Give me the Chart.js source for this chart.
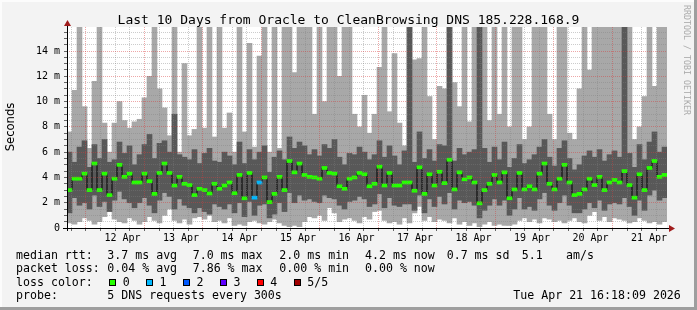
<!DOCTYPE html>
<html>
<head>
<meta charset="utf-8">
<script src="https://cdn.jsdelivr.net/npm/chart.js@4.4.1/dist/chart.umd.min.js"></script>
<style>
  body { margin: 0; background: #f3f3f3; }
  #wrap { position: relative; width: 697px; height: 310px; overflow: hidden; }
  #myChart { position: absolute; left: 0; top: 0; }
  .txt { position: absolute; font-family: 'DejaVu Sans Mono', monospace; font-size: 11.6px; line-height: 14px; color: #000; white-space: pre; }
  .box { position: absolute; width: 5px; height: 5px; border: 1px solid #000; }
</style>
</head>
<body>
<div id="wrap">
  <canvas id="myChart" width="697" height="310"></canvas>
  <div id="texts"></div>
</div>
<script>
// 120 bins of 2 h each, Apr 11 16:18 -> Apr 21 16:18, values in ms
const medianMs = [
  3.0, 3.9, 3.9, 4.3, 3.0, 5.1, 3.0, 4.3, 2.6, 3.9,
  5.0, 4.05, 4.3, 3.6, 3.6, 4.3, 3.7, 2.7, 4.36, 5.1,
  4.36, 3.36, 4.05, 3.5, 3.4, 2.6, 3.1, 3.0, 2.73, 3.5,
  3.1, 3.36, 3.6, 2.75, 4.2, 2.35, 4.36, 2.4, 3.6, 4.0,
  2.05, 2.7, 4.05, 3.0, 5.3, 4.4, 5.1, 4.2, 4.05, 4.0,
  3.9, 4.75, 4.36, 4.3, 3.3, 3.1, 3.9, 4.0, 4.36, 4.25,
  3.3, 3.5, 4.85, 3.36, 4.36, 3.36, 3.36, 3.6, 3.6, 2.95,
  4.8, 2.7, 4.25, 3.36, 4.45, 3.55, 5.4, 3.05, 4.4, 3.85,
  4.0, 3.6, 1.95, 3.0, 3.5, 4.2, 3.6, 4.4, 2.35, 3.05,
  4.36, 3.05, 3.3, 3.05, 4.3, 5.1, 3.5, 3.05, 3.9, 5.0,
  3.6, 2.6, 2.7, 3.05, 3.9, 3.4, 4.05, 3.0, 3.6, 3.8,
  3.6, 4.5, 3.4, 2.4, 4.25, 3.0, 4.75, 5.3, 4.05, 4.2
];
const lossCount = medianMs.map(() => 0);
lossCount[37] = 1;
lossCount[38] = 1;

const lightHiMs = [
  7.6, 10.9, 17, 9.6, 6.3, 11.6, 17, 8.3, 6.0, 8.3,
  10.0, 8.5, 7.9, 8.4, 8.6, 10.3, 12.0, 17, 11.0, 9.5,
  7.3, 17, 6.0, 13.0, 7.3, 7.8, 17, 7.9, 17, 7.2,
  17, 7.9, 9.1, 6.0, 17, 7.6, 14.6, 6.4, 13.6, 17,
  6.0, 17, 6.3, 17, 17, 12.3, 17, 17, 17, 9.0,
  17, 10.0, 17, 17, 12.0, 17, 17, 9.0, 8.0, 10.5,
  7.5, 9.0, 12.7, 17, 9.2, 13.8, 8.3, 6.5, 17, 13.3,
  13.4, 17, 10.4, 7.0, 11.2, 11.0, 17, 11.5, 9.6, 17,
  8.4, 17, 17, 17, 8.5, 17, 9.0, 17, 8.0, 17,
  17, 7.0, 8.0, 17, 17, 17, 9.0, 7.0, 17, 17,
  7.5, 7.0, 11.0, 17, 12.5, 17, 17, 17, 17, 17,
  17, 17, 17, 7.0, 8.0, 10.4, 17, 11.2, 17, 17
];
const lightLoMs = [
  0.4, 0.3, 0.5, 0.8, 0.6, 0.3, 0.5, 0.9, 1.4, 0.7,
  0.5, 0.4, 0.8, 0.6, 0.3, 0.5, 0.9, 0.6, 0.4, 1.0,
  1.5, 0.6, 0.4, 0.7, 0.3, 0.8, 0.9, 0.7, 1.0, 0.5,
  0.6, 0.4, 0.8, 0.2, 0.3, 0.2, 0.5, 0.6, 0.4, 0.3,
  0.5, 0.7, 0.4, 0.2, 0.1, 0.2, 0.1, 0.5, 0.9, 0.8,
  1.0, 0.6, 1.6, 1.2, 0.5, 0.7, 0.8, 0.6, 0.4, 0.9,
  0.7, 1.3, 1.4, 0.6, 0.4, 0.5, 0.3, 0.8, 0.4, 1.2,
  1.7, 0.6, 0.9, 0.5, 0.7, 0.6, 0.4, 0.8, 0.3, 0.5,
  0.2, 0.4, 0.1, 0.3, 0.5, 0.2, 0.3, 0.2, 0.2, 0.3,
  0.6, 0.8, 0.5, 0.7, 0.4, 0.8, 0.7, 0.5, 0.6, 0.4,
  0.6, 0.8, 0.5, 0.4, 1.0, 1.3, 0.6, 0.9, 0.5, 0.8,
  0.7, 0.6, 0.4, 0.5, 0.8, 0.6, 0.4, 0.5, 0.3, 0.5
];
const darkHiMs = [
  6.0, 5.2, 6.4, 6.9, 4.8, 6.6, 5.5, 7.0, 5.2, 5.4,
  6.8, 5.9, 6.5, 5.0, 5.8, 6.6, 7.4, 5.5, 6.7, 6.9,
  6.0, 9.0, 5.8, 5.6, 5.4, 6.2, 5.1, 5.9, 6.3, 5.3,
  5.2, 6.0, 5.7, 5.0, 6.8, 5.1, 6.2, 5.4, 6.0, 6.5,
  4.4, 5.6, 6.1, 5.4, 7.2, 6.3, 6.8, 6.5, 5.8, 6.2,
  5.7, 6.6, 6.3, 7.0, 5.6, 5.0, 5.9, 5.8, 6.4, 6.0,
  5.4, 5.8, 6.9, 5.6, 6.5, 5.7, 5.0, 6.1, 17, 5.2,
  7.6, 5.5, 6.2, 5.3, 6.6, 6.5, 17, 5.3, 6.3, 5.8,
  6.0, 6.2, 17, 6.3, 5.2, 6.4, 5.4, 6.8, 4.8, 5.5,
  6.6, 5.1, 5.4, 5.8, 6.4, 7.0, 5.6, 4.9, 6.3, 6.9,
  5.5, 4.6, 5.0, 5.7, 6.1, 5.6, 6.2, 5.3, 5.8, 6.1,
  5.6, 17, 5.9, 4.8, 6.6, 5.4, 6.8, 7.6, 6.0, 6.4
];
const darkLoMs = [
  1.2, 2.4, 1.8, 2.0, 1.5, 2.6, 1.7, 2.1, 1.3, 2.2,
  2.9, 2.3, 2.0, 1.6, 2.0, 2.4, 1.8, 1.2, 2.2, 2.8,
  2.5, 1.5, 2.3, 1.8, 1.6, 1.2, 1.6, 1.3, 1.1, 1.9,
  1.7, 1.5, 1.9, 1.2, 2.0, 0.9, 2.1, 1.0, 1.8, 1.9,
  0.8, 1.1, 2.0, 1.3, 2.8, 2.0, 2.6, 2.2, 2.3, 2.1,
  2.0, 2.6, 2.4, 2.3, 1.8, 1.5, 2.1, 2.2, 2.5, 2.3,
  1.7, 1.9, 2.7, 1.6, 2.4, 1.8, 1.7, 1.9, 1.9, 1.4,
  2.6, 1.2, 2.3, 1.7, 2.5, 1.9, 2.8, 1.5, 2.2, 2.0,
  2.1, 1.8, 0.8, 1.4, 1.8, 2.3, 1.8, 2.2, 1.0, 1.5,
  2.4, 1.5, 1.7, 1.4, 2.3, 2.8, 1.8, 1.4, 2.0, 2.6,
  1.8, 1.2, 1.2, 1.5, 2.0, 1.6, 2.2, 1.4, 1.9, 2.0,
  1.9, 2.4, 1.7, 1.0, 2.2, 1.4, 2.6, 3.0, 2.2, 2.4
];

const dayLabels = ['12 Apr', '13 Apr', '14 Apr', '15 Apr', '16 Apr', '17 Apr', '18 Apr', '19 Apr', '20 Apr', '21 Apr'];
const yTickLabels = ['0', '2 m', '4 m', '6 m', '8 m', '10 m', '12 m', '14 m'];
const lossColors = ['#26ff00', '#00b8ff', '#0059ff', '#5e00ff', '#ff0000', '#a00000'];
const lossLabels = ['0', '1', '2', '3', '4', '5/5'];
const rttStats = ['3.7 ms avg', '7.0 ms max', '2.0 ms min', '4.2 ms now', '0.7 ms sd', '5.1', 'am/s'];
const lossStats = ['0.04 % avg', '7.86 % max', '0.00 % min', '0.00 % now'];

// hours relative to Apr 12 00:00
const startHour = -7.7;
const endHour = 232.3;

const majorGrid = 'rgba(215,60,60,0.45)';
const minorGrid = 'rgba(128,128,128,0.4)';

const binLabels = medianMs.map((_, i) => i);

const frame = {
  id: 'frame',
  beforeDraw(chart) {
    const c = chart.ctx, a = chart.chartArea;
    c.save();
    c.fillStyle = '#f3f3f3';
    c.fillRect(0, 0, chart.width, chart.height);
    c.fillStyle = '#fcfcfc';
    c.fillRect(0, 0, chart.width, 2);
    c.fillRect(0, 0, 2, chart.height);
    c.fillStyle = '#9e9e9e';
    c.fillRect(0, chart.height - 3, chart.width, 3);
    c.fillRect(chart.width - 3, 0, 3, chart.height);
    c.fillStyle = '#ffffff';
    c.fillRect(a.left, a.top, a.right - a.left, a.bottom - a.top);
    c.restore();
  },
  afterDraw(chart) {
    const c = chart.ctx, a = chart.chartArea;
    c.save();
    c.strokeStyle = '#000';
    c.lineWidth = 1;
    c.beginPath();
    c.moveTo(a.left + 0.5, a.bottom + 3);
    c.lineTo(a.left + 0.5, a.top - 4);
    c.moveTo(a.left - 4, a.bottom + 0.5);
    c.lineTo(a.right + 2, a.bottom + 0.5);
    c.stroke();
    c.fillStyle = '#a01c1c';
    c.beginPath();
    c.moveTo(a.left - 3, a.top - 1);
    c.lineTo(a.left + 4, a.top - 1);
    c.lineTo(a.left + 0.5, a.top - 7);
    c.closePath();
    c.fill();
    c.beginPath();
    c.moveTo(a.right + 2, a.bottom - 3);
    c.lineTo(a.right + 2, a.bottom + 4);
    c.lineTo(a.right + 8, a.bottom + 0.5);
    c.closePath();
    c.fill();
    c.restore();
  }
};

new Chart(document.getElementById('myChart'), {
  type: 'bar',
  data: {
    labels: binLabels,
    datasets: [
      {
        label: 'median',
        data: medianMs.map(m => [m - 0.12, m + 0.12]),
        backgroundColor: lossCount.map(l => lossColors[l]),
        order: 0
      },
      {
        type: 'line',
        label: 'median line',
        data: medianMs,
        borderColor: '#000',
        borderWidth: 1,
        pointRadius: 0,
        stepped: 'middle',
        order: 1
      },
      {
        label: 'dark smoke',
        data: darkLoMs.map((lo, i) => [lo, darkHiMs[i]]),
        backgroundColor: '#585858',
        order: 2
      },
      {
        label: 'light smoke',
        data: lightLoMs.map((lo, i) => [lo, lightHiMs[i]]),
        backgroundColor: '#a8a8a8',
        order: 3
      }
    ]
  },
  options: {
    responsive: false,
    animation: false,
    datasets: {
      bar: { grouped: false, barPercentage: 1, categoryPercentage: 1, borderWidth: 0 }
    },
    layout: { padding: { left: 0, top: 27, right: 30, bottom: 0 } },
    plugins: { legend: { display: false }, tooltip: { enabled: false } },
    font: { family: 'DejaVu Sans Mono' },
    scales: {
      x: { display: false },
      xt: {
        type: 'linear',
        position: 'bottom',
        min: startHour,
        max: endHour,
        afterBuildTicks: (s) => {
          const t = [];
          for (let h = -6; h <= 228; h += 6) t.push({ value: h });
          s.ticks = t;
        },
        afterFit: (s) => { s.height = 82; },
        grid: {
          z: 1,
          color: (ctx) => (ctx.tick && ctx.tick.value % 24 === 0 ? majorGrid : minorGrid),
          tickColor: '#666',
          tickLength: 3,
          tickBorderDash: []
        },
        border: { display: false, dash: [1, 1] },
        ticks: {
          autoSkip: false,
          maxRotation: 0,
          padding: 1,
          color: '#000',
          font: { family: 'DejaVu Sans Mono', size: 10 },
          callback: (v) => (v % 24 === 12 ? dayLabels[(v - 12) / 24] : '')
        }
      },
      y: {
        min: 0,
        max: 15.9,
        afterBuildTicks: (s) => {
          const t = [];
          for (let v = 0; v <= 15.5; v += 0.5) t.push({ value: v });
          s.ticks = t;
        },
        afterFit: (s) => { s.width = 67; },
        grid: {
          z: 1,
          color: (ctx) => (ctx.tick && ctx.tick.value === 0 ? 'rgba(0,0,0,0)' :
            (ctx.tick && ctx.tick.value % 2 === 0 ? majorGrid : minorGrid)),
          tickColor: '#666',
          tickLength: 3,
          tickBorderDash: []
        },
        border: { display: false, dash: [1, 1] },
        ticks: {
          autoSkip: false,
          padding: 4,
          color: '#000',
          font: { family: 'DejaVu Sans Mono', size: 10 },
          callback: (v) => (v % 2 === 0 ? yTickLabels[v / 2] : '')
        }
      }
    }
  },
  plugins: [frame]
});

// text around the graph
const texts = document.getElementById('texts');
function put(str, x, top, style) {
  const d = document.createElement('div');
  d.className = 'txt';
  d.textContent = str;
  d.style.left = x + 'px';
  d.style.top = top + 'px';
  if (style) Object.assign(d.style, style);
  texts.appendChild(d);
  return d;
}

put('Last 10 Days from Oracle to CleanBrowsing DNS 185.228.168.9', 0, 11.5,
  { width: '697px', textAlign: 'center', fontSize: '13px', lineHeight: '16px' });
put('Seconds', -30, 120,
  { width: '80px', textAlign: 'center', fontFamily: "'DejaVu Sans', sans-serif", transform: 'rotate(-90deg)' });
put('RRDTOOL / TOBI OETIKER', 692, 5,
  { fontSize: '8.3px', lineHeight: '10px', color: '#aaaaaa', transformOrigin: 'left top', transform: 'rotate(90deg)' });

const rows = [247.5, 261.2, 274.8, 287.5];
put('median rtt:', 16, rows[0]);
const rttX = [107.3, 192.7, 279.3, 365, 446.7, 521.7, 566];
rttStats.forEach((s, i) => put(s, rttX[i], rows[0]));
put('packet loss:', 16, rows[1]);
lossStats.forEach((s, i) => put(s, rttX[i], rows[1]));
put('loss color:', 16, rows[2]);
lossLabels.forEach((s, i) => {
  const bx = 109 + i * 36.9;
  const b = document.createElement('div');
  b.className = 'box';
  b.style.left = bx + 'px';
  b.style.top = '279px';
  b.style.background = lossColors[i];
  texts.appendChild(b);
  put(s, bx + 13.7, rows[2]);
});
put('probe:', 16, rows[3]);
put('5 DNS requests every 300s', 107.3, rows[3]);
put('Tue Apr 21 16:18:09 2026', 513.3, rows[3]);
</script>
</body>
</html>
